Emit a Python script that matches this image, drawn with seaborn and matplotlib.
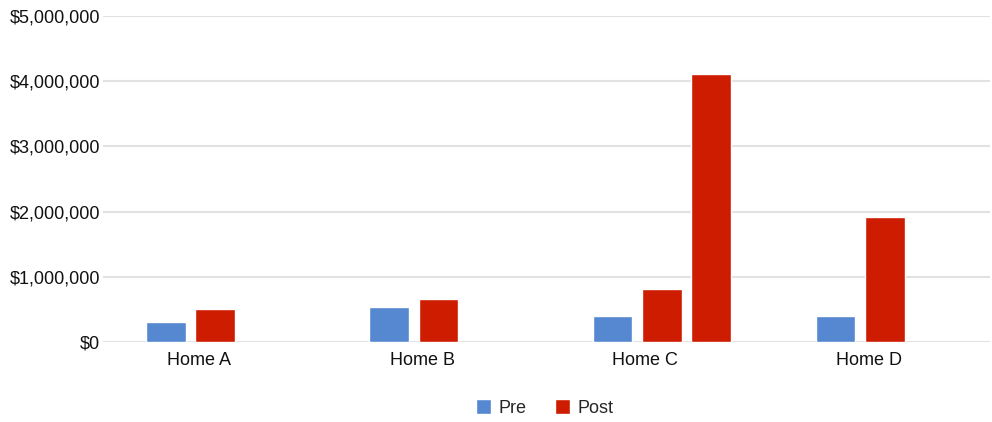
import numpy as np
import pandas as pd
import seaborn as sns
import matplotlib.pyplot as plt
from matplotlib.ticker import FuncFormatter

# chart data
homes = ["Home A", "Home B", "Home C", "Home D"]
pre = [310000, 540000, 390000, 390000]
post = [500000, 660000, 810000, 1920000]
post_extra = [np.nan, np.nan, 4110000, np.nan]
series = ["Pre", "Post", "Post (2)"]
colors = ["#5588d0", "#cd1c00", "#cd1c00"]

df = pd.DataFrame({
    "home": homes * 3,
    "series": ["Pre"] * 4 + ["Post"] * 4 + ["Post (2)"] * 4,
    "value": pre + post + post_extra,
})

sns.set_style("white")
plt.rcParams["font.family"] = ["Liberation Sans", "DejaVu Sans"]

fig = plt.figure(figsize=(9.92, 4.22), dpi=100)
ax = fig.add_axes([0.104, 0.19, 0.894, 0.772])

sns.barplot(data=df, x="home", y="value", hue="series", hue_order=series,
            palette=colors, width=0.665, gap=0.2, errorbar=None, ax=ax,
            saturation=1)

ax.set_ylim(0, 5000000)
ax.set_yticks(np.arange(0, 5000001, 1000000))
ax.yaxis.set_major_formatter(FuncFormatter(lambda v, p: "${:,.0f}".format(v)))
ax.set_xlim(-0.502, 3.47)
ax.set_xticks(np.arange(len(homes)) - 0.074)
ax.set_xticklabels(homes)
ax.set_xlabel("")
ax.set_ylabel("")

ax.grid(axis="y", color="#e2e2e2", linewidth=1.5)
ax.set_axisbelow(True)
for s in ax.spines.values():
    s.set_visible(False)
ax.tick_params(axis="both", length=0, labelsize=13, colors="#111111")
ax.tick_params(axis="y", pad=2)
ax.tick_params(axis="x", pad=7)

handles, labels = ax.get_legend_handles_labels()
ax.get_legend().remove()
fig.legend(handles[:2], labels[:2], loc="center", bbox_to_anchor=(0.549, 0.033),
           ncol=2, frameon=False, fontsize=13, handlelength=0.85,
           handleheight=0.85, handletextpad=0.4, columnspacing=1.6)

plt.savefig("out.png", dpi=100)
